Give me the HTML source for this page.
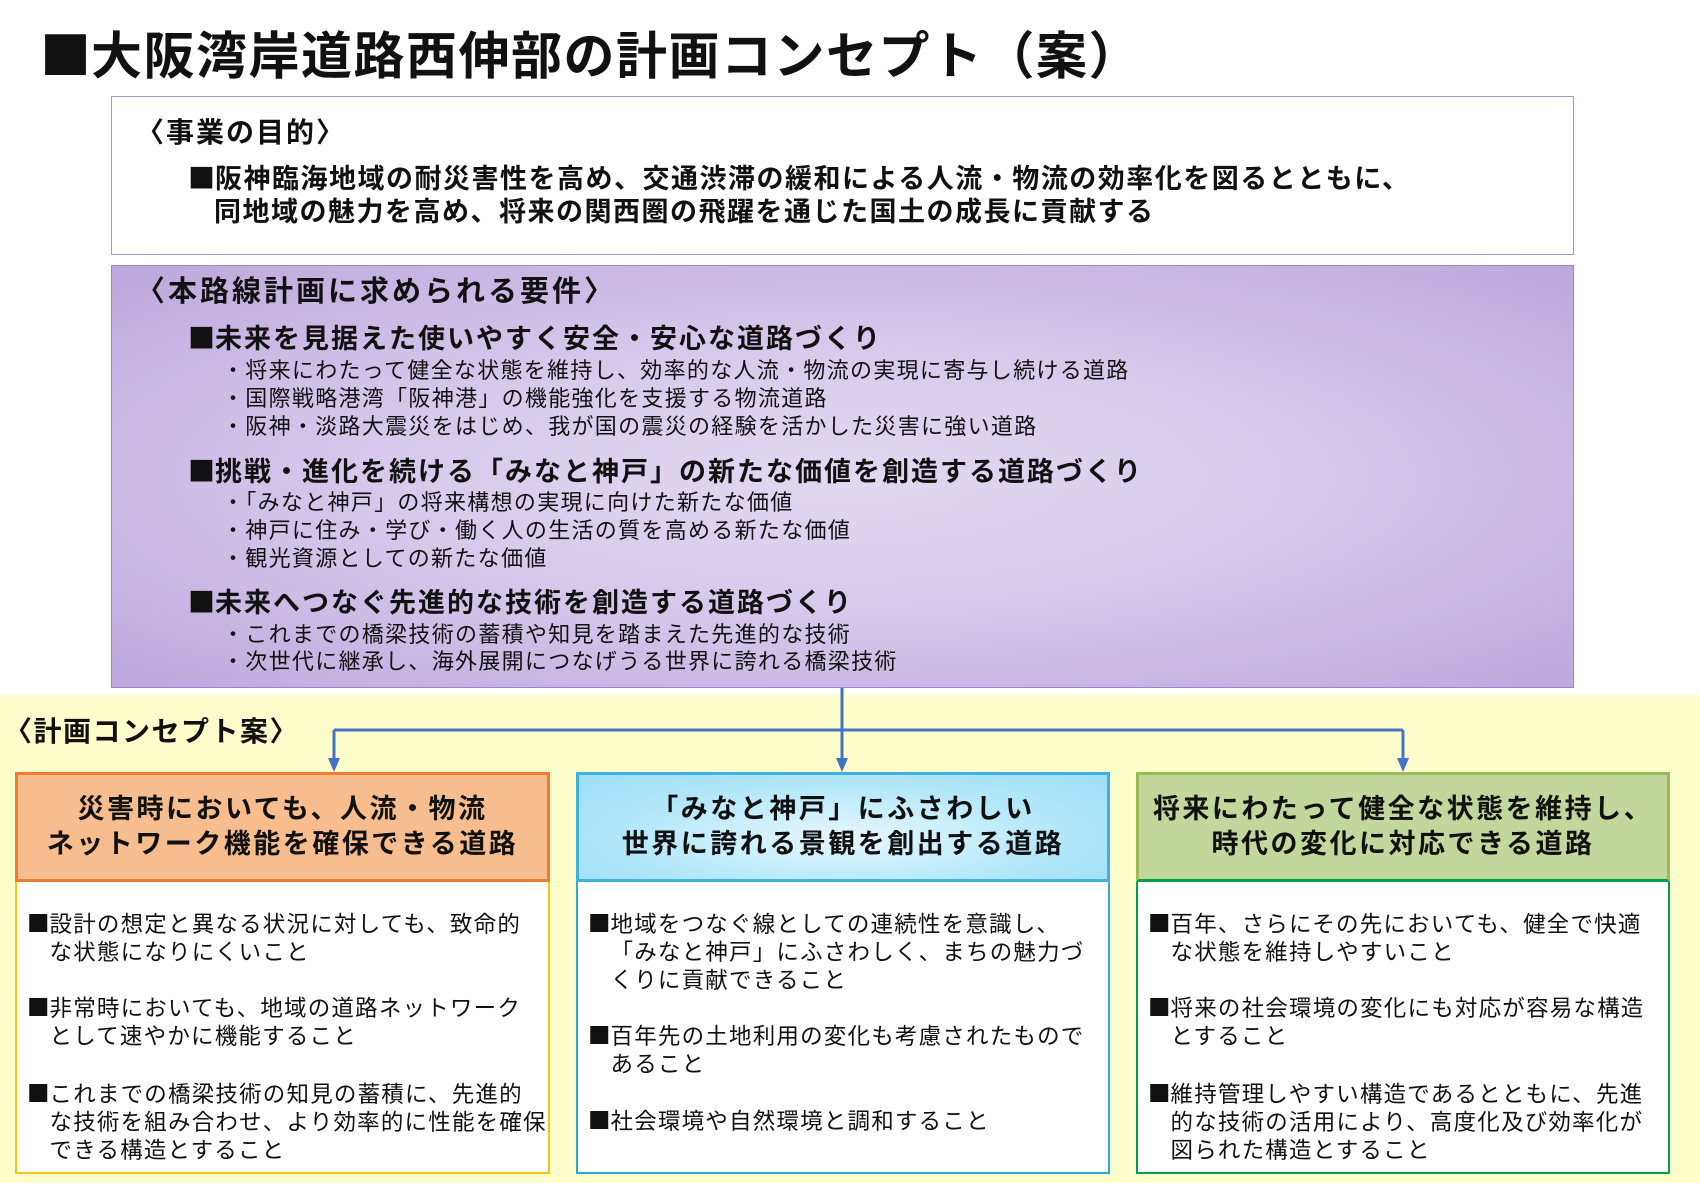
<!DOCTYPE html>
<html><head><meta charset="utf-8"><style>
body{margin:0;width:1700px;height:1183px;position:relative;background:#fff;font-family:"Liberation Sans","Noto Sans CJK JP",sans-serif;color:#111;overflow:hidden}
.a{position:absolute;white-space:nowrap}
.b{font-weight:bold}
.box{position:absolute;box-sizing:border-box}
.t{font-size:22.5px;letter-spacing:1.2px;line-height:28px;position:absolute;left:12px;white-space:nowrap}
.h{position:absolute;font-size:27px;letter-spacing:2.5px;font-weight:bold;text-align:center;left:0;right:0;line-height:35px}
.sq{display:inline-block;width:1em;font-family:"Noto Sans CJK JP",sans-serif}
.cj{font-family:"Noto Sans CJK JP",sans-serif}
.bl{font-size:22px;letter-spacing:1.3px;line-height:28px}
.sh{font-size:27px;letter-spacing:2px;line-height:32px}
</style></head><body>
<div class="a b" style="left:40px;top:22px;font-size:51px;letter-spacing:1.5px;line-height:60px"><span class="sq">■</span>大阪湾岸道路西伸部の計画コンセプト（案）</div>

<div class="box" style="left:111px;top:96px;width:1463px;height:159px;border:1.5px solid #a898c8;background:#fff"></div>
<div class="a b cj" style="left:136px;top:114px;font-size:28px;letter-spacing:2px;line-height:34px">〈事業の目的〉</div>
<div class="a b" style="left:188px;top:161px;font-size:27px;letter-spacing:1.5px;line-height:32px"><span class="sq">■</span>阪神臨海地域の耐災害性を高め、交通渋滞の緩和による人流・物流の効率化を図るとともに、</div>
<div class="a b" style="left:214px;top:196px;font-size:27px;letter-spacing:1.5px;line-height:32px">同地域の魅力を高め、将来の関西圏の飛躍を通じた国土の成長に貢献する</div>

<div class="box" style="left:111px;top:265px;width:1463px;height:423px;border:1.5px solid #9b85c6;background:radial-gradient(ellipse at 50% 50%,#e2d8f1 0%,#d6c9ec 45%,#bca8dc 100%)"></div>
<div class="a b cj" style="left:136px;top:272px;font-size:29px;letter-spacing:3px;line-height:34px">〈本路線計画に求められる要件〉</div>
<div class="a b sh" style="left:188px;top:321px"><span class="sq">■</span>未来を見据えた使いやすく安全・安心な道路づくり</div>
<div class="a bl" style="left:222px;top:357px">・将来にわたって健全な状態を維持し、効率的な人流・物流の実現に寄与し続ける道路</div>
<div class="a bl" style="left:222px;top:385px">・国際戦略港湾「阪神港」の機能強化を支援する物流道路</div>
<div class="a bl" style="left:222px;top:413px">・阪神・淡路大震災をはじめ、我が国の震災の経験を活かした災害に強い道路</div>
<div class="a b sh" style="left:188px;top:454px"><span class="sq">■</span>挑戦・進化を続ける「みなと神戸」の新たな価値を創造する道路づくり</div>
<div class="a bl" style="left:222px;top:489px">・「みなと神戸」の将来構想の実現に向けた新たな価値</div>
<div class="a bl" style="left:222px;top:517px">・神戸に住み・学び・働く人の生活の質を高める新たな価値</div>
<div class="a bl" style="left:222px;top:545px">・観光資源としての新たな価値</div>
<div class="a b sh" style="left:188px;top:585px"><span class="sq">■</span>未来へつなぐ先進的な技術を創造する道路づくり</div>
<div class="a bl" style="left:222px;top:621px">・これまでの橋梁技術の蓄積や知見を踏まえた先進的な技術</div>
<div class="a bl" style="left:222px;top:648px">・次世代に継承し、海外展開につなげうる世界に誇れる橋梁技術</div>

<div class="box" style="left:0;top:695px;width:1700px;height:488px;background:#fefdcc"></div>
<div class="a b cj" style="left:4px;top:713px;font-size:28px;letter-spacing:1.5px;line-height:34px">〈計画コンセプト案〉</div>

<svg class="a" style="left:0;top:0" width="1700" height="1183">
<g stroke="#4472c4" stroke-width="3" fill="none">
<path d="M842 688V760M334 730H1403M334 730V760M1403 730V760"/>
</g>
<g fill="#4472c4">
<path d="M328 758L340 758L334 772Z"/><path d="M836 758L848 758L842 772Z"/><path d="M1397 758L1409 758L1403 772Z"/>
</g>
</svg>

<!-- A -->
<div class="box" style="left:15px;top:772px;width:535px;height:402px;border:2.5px solid #f5c518;border-top:none;background:#fff"></div>
<div class="box" style="left:15px;top:772px;width:535px;height:110px;background:#f7bd8e;border:3px solid #ed7d31">
<div class="h" style="top:17px">災害時においても、人流・物流<br>ネットワーク機能を確保できる道路</div></div>
<div class="box" style="left:15px;top:882px;width:535px;height:292px">
<div class="t" style="top:27px"><span class="sq">■</span>設計の想定と異なる状況に対しても、致命的<br><span class="sq"></span>な状態になりにくいこと</div>
<div class="t" style="top:111px"><span class="sq">■</span>非常時においても、地域の道路ネットワーク<br><span class="sq"></span>として速やかに機能すること</div>
<div class="t" style="top:197px"><span class="sq">■</span>これまでの橋梁技術の知見の蓄積に、先進的<br><span class="sq"></span>な技術を組み合わせ、より効率的に性能を確保<br><span class="sq"></span>できる構造とすること</div>
</div>

<!-- B -->
<div class="box" style="left:576px;top:772px;width:534px;height:402px;border:2.5px solid #2aa8d8;background:#fff"></div>
<div class="box" style="left:576px;top:772px;width:534px;height:110px;background:radial-gradient(ellipse at 50% 60%,#e6f7fd 0%,#b2e7fa 60%,#9bdff7 100%);border:3px solid #41b0dc">
<div class="h" style="top:17px">「みなと神戸」にふさわしい<br>世界に誇れる景観を創出する道路</div></div>
<div class="box" style="left:576px;top:882px;width:534px;height:292px">
<div class="t" style="top:27px"><span class="sq">■</span>地域をつなぐ線としての連続性を意識し、<br><span class="sq"></span>「みなと神戸」にふさわしく、まちの魅力づ<br><span class="sq"></span>くりに貢献できること</div>
<div class="t" style="top:139px"><span class="sq">■</span>百年先の土地利用の変化も考慮されたもので<br><span class="sq"></span>あること</div>
<div class="t" style="top:224px"><span class="sq">■</span>社会環境や自然環境と調和すること</div>
</div>

<!-- C -->
<div class="box" style="left:1136px;top:772px;width:534px;height:402px;border:2.5px solid #00a04a;background:#fff"></div>
<div class="box" style="left:1136px;top:772px;width:534px;height:110px;background:#c3d69b;border:3px solid #9bbb59;border-bottom-color:#00a04a">
<div class="h" style="top:17px">将来にわたって健全な状態を維持し、<br>時代の変化に対応できる道路</div></div>
<div class="box" style="left:1136px;top:882px;width:534px;height:292px">
<div class="t" style="top:27px"><span class="sq">■</span>百年、さらにその先においても、健全で快適<br><span class="sq"></span>な状態を維持しやすいこと</div>
<div class="t" style="top:111px"><span class="sq">■</span>将来の社会環境の変化にも対応が容易な構造<br><span class="sq"></span>とすること</div>
<div class="t" style="top:197px"><span class="sq">■</span>維持管理しやすい構造であるとともに、先進<br><span class="sq"></span>的な技術の活用により、高度化及び効率化が<br><span class="sq"></span>図られた構造とすること</div>
</div>
</body></html>
